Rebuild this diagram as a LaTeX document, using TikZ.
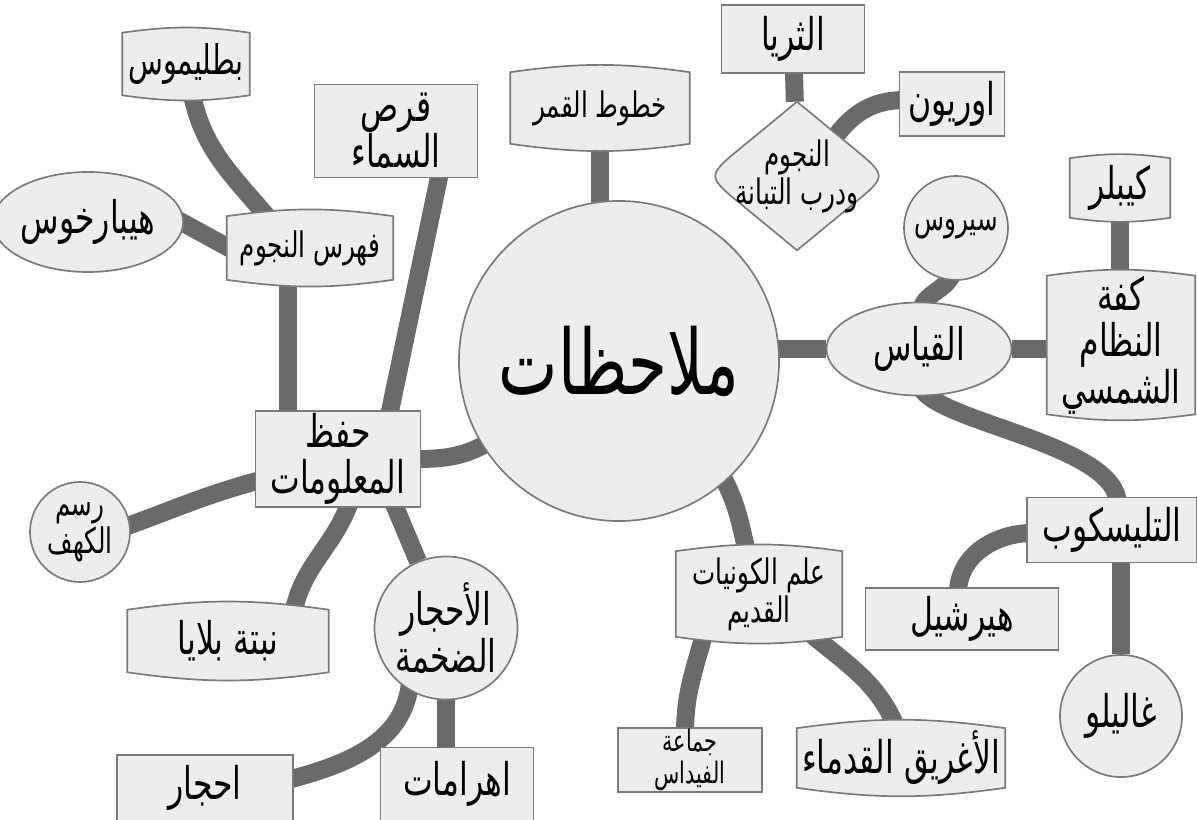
\documentclass[tikz,border=0pt]{standalone}
\usepackage{fontspec}
\newfontfamily\arfont[Script=Arabic,FakeStretch=0.7]{DejaVu Sans}
\TeXXeTstate=1
\usetikzlibrary{calc,shapes.geometric}
\pgfdeclarelayer{links}
\pgfdeclarelayer{shells}
\pgfsetlayers{links,shells,main}
\newcommand\artext[1]{\beginR#1\endR}
\definecolor{boxfill}{HTML}{EDEDED}
\definecolor{boxline}{HTML}{7A7A7A}
\definecolor{linkgray}{HTML}{6A6A6A}
\tikzset{
  every node/.style={inner sep=0pt, align=center, text=black},
  box/.style={rectangle, draw=boxline, fill=boxfill, line width=1.2pt},
  shellbox/.style={rectangle},
  oval/.style={ellipse, draw=boxline, fill=boxfill, line width=1.2pt},
  disc/.style={circle, draw=boxline, fill=boxfill, line width=1.2pt},
  shell/.style={draw=boxline, fill=boxfill, line width=1.2pt},
  link/.style={draw=linkgray, line width=0.45cm},
  bigtxt/.style={font=\arfont\fontsize{64}{64}\selectfont},
  midtxt/.style={font=\arfont\fontsize{32}{33}\selectfont},
  smalltxt/.style={font=\arfont\fontsize{25}{27}\selectfont},
  tinytxt/.style={font=\arfont\fontsize{21}{23}\selectfont},
}
\begin{document}
\begin{tikzpicture}[x=0.025cm,y=0.025cm]
\useasboundingbox (0,0) rectangle (1197,-820);
% centre
\node[disc, minimum size=8cm, bigtxt] (notes) at (619,-361) {\artext{ملاحظات}};
% upper left
\node[shellbox, minimum width=3.175cm, minimum height=1.55cm, font=\arfont\fontsize{29}{30}\selectfont] (ptol) at (186,-64) {\artext{بطليموس}};
\node[oval, minimum width=3.9cm, minimum height=2.5cm, midtxt] (hipp) at (88,-222) {\artext{هيبارخوس}};
\node[shellbox, minimum width=4.15cm, minimum height=1.575cm, smalltxt] (fihrist) at (310,-248) {\artext{فهرس النجوم}};
\node[box, minimum width=4.075cm, minimum height=2.325cm, midtxt] (disk) at (396,-131) {\artext{قرص}\\\artext{السماء}};
\node[shellbox, minimum width=4.475cm, minimum height=1.775cm, smalltxt] (moon) at (600,-108) {\artext{خطوط القمر}};
% upper right
\node[box, minimum width=3.575cm, minimum height=1.7cm, midtxt] (pleiad) at (793,-39) {\artext{الثريا}};
\node[box, minimum width=2.625cm, minimum height=1.6cm, midtxt] (orion) at (952,-104) {\artext{اوريون}};
\node[shellbox, minimum width=4.5cm, minimum height=3.7cm, smalltxt] (milky) at (797,-176) {\artext{النجوم}\\\artext{ودرب التبانة}};
\node[disc, minimum size=2.6cm, smalltxt] (sirius) at (956,-228) {\artext{سيروس}};
\node[shellbox, minimum width=2.5cm, minimum height=1.475cm, midtxt] (kepler) at (1120,-188) {\artext{كيبلر}};
\node[shellbox, minimum width=3.7cm, minimum height=2.65cm, midtxt] (solar) at (1121,-345) {\artext{كفة}\\\artext{النظام}\\\artext{الشمسي}};
\node[oval, minimum width=4.625cm, minimum height=2.325cm, midtxt] (measure) at (919,-349) {\artext{القياس}};
% lower right
\node[box, minimum width=4.25cm, minimum height=1.625cm, midtxt] (teles) at (1112,-530) {\artext{التليسكوب}};
\node[box, minimum width=4.825cm, minimum height=1.55cm, midtxt] (hersch) at (962,-619) {\artext{هيرشيل}};
\node[disc, minimum size=3.05cm, midtxt] (galileo) at (1121,-716) {\artext{غاليلو}};
\node[shellbox, minimum width=5.2cm, minimum height=1.475cm, midtxt] (greeks) at (901,-758) {\artext{الأغريق القدماء}};
\node[shellbox, minimum width=4.15cm, minimum height=2.125cm, smalltxt] (cosmo) at (759,-594) {\artext{علم الكونيات}\\\artext{القديم}};
\node[box, minimum width=3.6cm, minimum height=1.6cm, tinytxt] (fidas) at (690,-760) {\artext{جماعة}\\\artext{الفيداس}};
% lower left
\node[box, minimum width=4.125cm, minimum height=2.4cm, midtxt] (memo) at (338,-459) {\artext{حفظ}\\\artext{المعلومات}};
\node[disc, minimum size=2.5cm, smalltxt] (cave) at (80,-532) {\artext{رسم}\\\artext{الكهف}};
\node[shellbox, minimum width=5.025cm, minimum height=1.55cm, midtxt] (plant) at (228,-641) {\artext{نبتة بلايا}};
\node[disc, minimum size=3.575cm, midtxt] (mega) at (446,-628) {\artext{الأحجار}\\\artext{الضخمة}};
\node[box, minimum width=4.4cm, minimum height=1.65cm, midtxt] (stones) at (205,-788) {\artext{احجار}};
\node[box, minimum width=3.825cm, minimum height=1.825cm, midtxt] (pyram) at (457,-784) {\artext{اهرامات}};
% outlines of the curved boxes
\begin{pgfonlayer}{shells}
\foreach \n in {ptol,fihrist,moon,kepler,solar,cosmo,greeks,plant}
  \draw[shell] (\n.north west) to[bend left=8] (\n.north east) -- (\n.south east)
    to[bend left=8] (\n.south west) -- cycle;
\draw[shell] (milky.north) -- ($(milky.north)!0.62!(milky.east)$) .. controls (milky.east) .. ($(milky.south)!0.62!(milky.east)$)
  -- (milky.south) -- ($(milky.south)!0.62!(milky.west)$) .. controls (milky.west) .. ($(milky.north)!0.62!(milky.west)$) -- cycle;
\end{pgfonlayer}
% connectors
\begin{pgfonlayer}{links}
\draw[link] (moon) -- (moon |- notes);
\draw[link] (notes) -- (milky);
\draw[link] (pleiad) -- (milky);
\draw[link] ($(milky.north)!0.45!(milky.east)+(-4,-4)$) to[out=55,in=180] ($(orion.west)+(6,4)$);
\draw[link] (measure) -- (measure -| notes);
\draw[link] ($(measure.north)+(2,-8)$) to[out=75,in=-115] ($(sirius.south)+(-4,6)$);
\draw[link] (measure) -- (measure -| solar);
\draw[link] (kepler) -- (kepler |- solar);
\draw[link] ($(measure.south)+(2,8)$) .. controls +(20,-35) and +(0,60) .. ($(teles.north)+(6,-8)$);
\draw[link] ($(teles.west)+(6,-3)$) to[out=180,in=90] ($(hersch.north)+(-4,-6)$);
\draw[link] (galileo) -- (galileo |- teles);
\draw[link] ($(notes.-48)!6pt!(notes)$) to[out=-60,in=105] ($(cosmo.north)+(-10,-8)$);
\draw[link] ($(cosmo.south)+(-54,6)$) to[out=-105,in=90] ($(fidas.north)+(-5,-6)$);
\draw[link] ($(cosmo.south)+(48,6)$) to[out=-40,in=110] ($(greeks.north)+(-2,-6)$);
\draw[link] ($(notes.212)!6pt!(notes)$) to[out=210,in=0] ($(memo.east)+(-6,0)$);
\draw[link] ($(memo.north)+(51,-6)$) -- ($(disk.south)+(44,6)$);
\draw[link] ($(memo.north)+(-50,-6)$) -- ($(fihrist.south)+(-22,6)$);
\draw[link] ($(ptol.south)+(5,6)$) to[out=-80,in=130] ($(fihrist.north)+(-38,-6)$);
\draw[link] ($(fihrist.west)+(6,-2)$) -- ($(hipp.east)+(-8,3)$);
\draw[link] ($(memo.west)+(6,-21)$) to[out=195,in=20] ($(cave.east)+(-6,5)$);
\draw[link] ($(memo.south)+(12,6)$) to[out=-110,in=80] ($(plant.north)+(65,-5)$);
\draw[link] ($(memo.south)+(55,6)$) -- (mega);
\draw[link] ($(mega.236)!6pt!(mega)$) to[out=-95,in=15] ($(stones.east)+(-6,8)$);
\draw[link] (mega) -- (mega |- pyram);
\end{pgfonlayer}
\end{tikzpicture}
\end{document}
